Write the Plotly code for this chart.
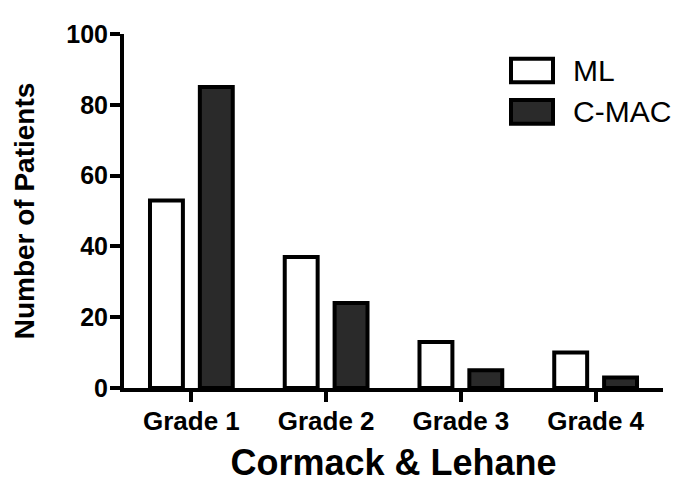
import plotly.graph_objects as go

categories = ["Grade 1", "Grade 2", "Grade 3", "Grade 4"]
ml_values = [53, 37, 13, 10]
cmac_values = [85, 24, 5, 3]
series_names = ["ML", "C-MAC"]
y_ticks = [0, 20, 40, 60, 80, 100]

# page has an 8px body margin, so the figure is drawn 8px right/down
OFF = 8
W, H = 685 - OFF, 489 - OFF
L, R, T, B = 124 - OFF, 22, 30 - OFF, 100
FONT = "Liberation Sans, Arial, sans-serif"
DARK = "#2a2a2a"


def px_x(p):
    # p is a page pixel x
    return (p - OFF - L) / (W - L - R)


def px_y(p):
    # p is a page pixel y
    return (H - B - (p - OFF)) / (H - T - B)


fig = go.Figure()
fig.add_trace(go.Bar(
    x=categories, y=ml_values, name=series_names[0],
    marker=dict(color="white", line=dict(color="black", width=4)),
    showlegend=False,
))
fig.add_trace(go.Bar(
    x=categories, y=cmac_values, name=series_names[1],
    marker=dict(color=DARK, line=dict(color="black", width=4)),
    showlegend=False,
))

# custom legend (large boxes as in the reference)
shapes = []
annotations = []
for i, (name, fill) in enumerate(zip(series_names, ["white", DARK])):
    y0p, y1p = 55 + i * 42, 79 + i * 42
    shapes.append(dict(
        type="rect", xref="paper", yref="paper",
        x0=px_x(511), x1=px_x(553), y0=px_y(y1p), y1=px_y(y0p),
        fillcolor=fill, line=dict(color="black", width=4),
    ))
    annotations.append(dict(
        xref="paper", yref="paper", x=px_x(571), y=px_y((y0p + y1p) / 2),
        text=name, showarrow=False, xanchor="left", yanchor="middle",
        font=dict(family=FONT, size=30, color="black"),
    ))

fig.update_layout(
    width=W, height=H,
    margin=dict(l=L, r=R, t=T, b=B),
    paper_bgcolor="white", plot_bgcolor="white",
    barmode="group", bargap=0.26, bargroupgap=0.34,
    shapes=shapes, annotations=annotations,
    font=dict(family=FONT, color="black"),
)
fig.update_xaxes(
    range=[-0.5, 3.5],
    showline=True, linecolor="black", linewidth=4,
    ticks="outside", ticklen=10, tickwidth=4, tickcolor="black",
    ticklabelstandoff=-3,
    tickfont=dict(family=FONT, size=26, color="black", weight="bold"),
    showgrid=False, zeroline=False,
    title=dict(text="Cormack & Lehane", standoff=16,
               font=dict(family=FONT, size=36, color="black", weight="bold")),
)
fig.update_yaxes(
    range=[0, 100], tickvals=y_ticks,
    showline=True, linecolor="black", linewidth=4,
    ticks="outside", ticklen=10, tickwidth=4, tickcolor="black",
    ticklabelstandoff=-3,
    tickfont=dict(family=FONT, size=25, color="black", weight="bold"),
    showgrid=False, zeroline=False,
    title=dict(text="Number of Patients", standoff=24,
               font=dict(family=FONT, size=28, color="black", weight="bold")),
)

fig.write_html("out.html")
